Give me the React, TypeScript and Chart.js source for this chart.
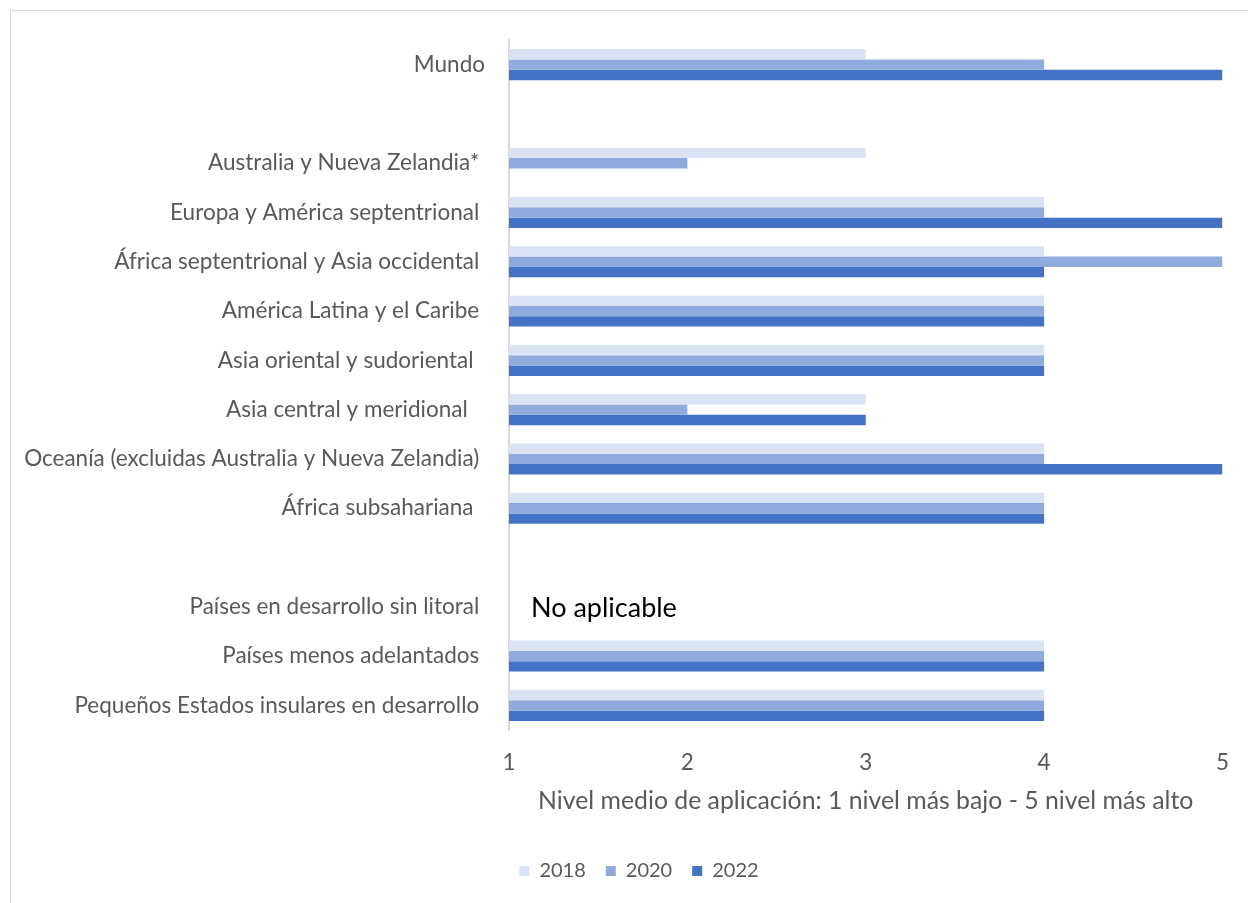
import React, { useEffect, useRef } from "react";
import { Chart, registerables } from "chart.js";

Chart.register(...registerables);

const categories = [
  "Mundo",
  "",
  "Australia y Nueva Zelandia* ",
  "Europa y América septentrional ",
  "África septentrional y Asia occidental ",
  "América Latina y el Caribe ",
  "Asia oriental y sudoriental  ",
  "Asia central y meridional   ",
  "Oceanía (excluidas Australia y Nueva Zelandia) ",
  "África subsahariana  ",
  " ",
  "Países en desarrollo sin litoral ",
  "Países menos adelantados ",
  "Pequeños Estados insulares en desarrollo ",
];

const seriesNames = ["2018", "2020", "2022"];
const values2018 = [3, null, 3, 4, 4, 4, 4, 3, 4, 4, null, null, 4, 4];
const values2020 = [4, null, 2, 4, 5, 4, 4, 2, 4, 4, null, null, 4, 4];
const values2022 = [5, null, null, 5, 4, 4, 4, 3, 5, 4, null, null, 4, 4];
const seriesColors = ["#dae3f3", "#8faadc", "#4472c4"];

const xTicks = [1, 2, 3, 4, 5];
const xTitle = "Nivel medio de aplicación: 1 nivel más bajo - 5 nivel más alto";
const noteText = "No aplicable";
const noteCategory = "Países en desarrollo sin litoral ";

const FONT = "Lato, 'Open Sans', sans-serif";
const TEXT = "#595959";

export default function App() {
  const canvasRef = useRef<HTMLCanvasElement | null>(null);

  useEffect(() => {
    if (!canvasRef.current) return;
    const notePlugin = {
      id: "notePlugin",
      afterDatasetsDraw(chart: any) {
        const { ctx, scales } = chart;
        const xs = scales.x;
        const ys = scales.y;
        const idx = categories.indexOf(noteCategory);
        const x = xs.getPixelForValue(xTicks[0]) + 22;
        const y = ys.getPixelForValue(idx) + 2;
        ctx.save();
        ctx.font = `27px ${FONT}`;
        ctx.fillStyle = "#000000";
        ctx.textAlign = "left";
        ctx.textBaseline = "middle";
        ctx.fillText(noteText, x, y);
        ctx.restore();
      },
    };
    const legendShift = {
      id: "legendShift",
      afterLayout(chart: any) {
        if (chart.legend) {
          chart.legend.left += 55;
        }
      },
    };

    const allValues = [values2018, values2020, values2022];
    const chart = new Chart(canvasRef.current, {
      type: "bar",
      data: {
        labels: categories,
        datasets: seriesNames.map((name, i) => ({
          label: name,
          data: allValues[i],
          backgroundColor: seriesColors[i],
          borderWidth: 0,
          base: xTicks[0],
          categoryPercentage: 0.63,
          barPercentage: 1.0,
        })),
      },
      options: {
        indexAxis: "y",
        animation: false,
        responsive: false,
        maintainAspectRatio: false,
        layout: { padding: { left: 0, right: 25, top: 40, bottom: 12 } },
        plugins: {
          legend: {
            display: true,
            position: "bottom",
            labels: {
              boxWidth: 10,
              boxHeight: 10,
              padding: 20,
              color: TEXT,
              font: { family: FONT, size: 20 },
            },
          },
          tooltip: { enabled: false },
        },
        scales: {
          x: {
            type: "linear",
            min: 1,
            max: 5,
            afterBuildTicks: (scale: any) => {
              scale.ticks = xTicks.map((v) => ({ value: v }));
            },
            afterFit: (scale: any) => {
              scale.height = 111;
            },
            grid: { display: false, drawTicks: false },
            border: { display: false },
            ticks: {
              color: TEXT,
              padding: 19,
              font: { family: FONT, size: 22.5 },
            },
            title: {
              display: true,
              text: xTitle,
              color: TEXT,
              padding: { top: 0, bottom: 25 },
              font: { family: FONT, size: 24.8 },
            },
          },
          y: {
            type: "category",
            afterFit: (scale: any) => {
              scale.width = 509;
            },
            grid: { display: false, drawTicks: false },
            border: { display: true, color: "#d9d9d9", width: 2 },
            ticks: {
              color: TEXT,
              padding: 24,
              autoSkip: false,
              font: { family: FONT, size: 22.5 },
            },
          },
        },
      },
      plugins: [notePlugin, legendShift],
    } as any);
    return () => chart.destroy();
  }, []);

  return (
    <div
      style={{
        position: "fixed",
        left: 0,
        top: 0,
        width: 1248,
        height: 903,
        overflow: "hidden",
        background: "#ffffff",
      }}
    >
      <div
        style={{
          position: "absolute",
          left: 10,
          top: 10,
          width: 1300,
          height: 1000,
          border: "1px solid #d9d9d9",
        }}
      />
      <canvas
        ref={canvasRef}
        width={1248}
        height={903}
        style={{ position: "absolute", left: 0, top: 0, width: 1248, height: 903 }}
      />
    </div>
  );
}
